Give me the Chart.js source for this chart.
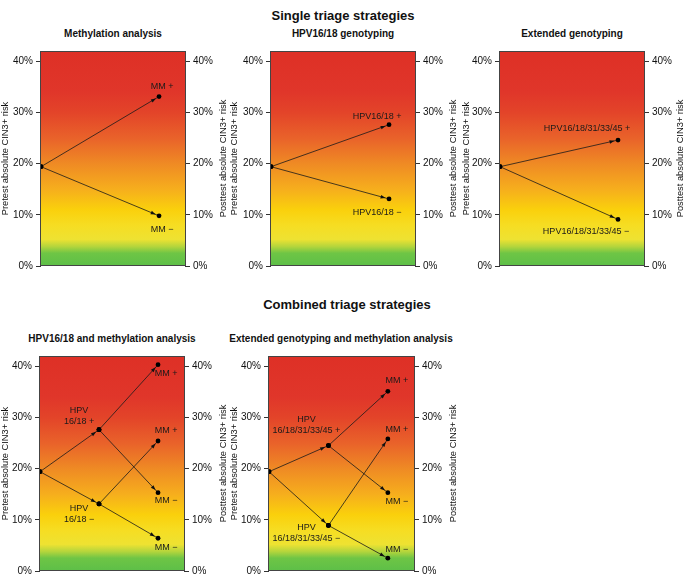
<!DOCTYPE html>
<html>
<head>
<meta charset="utf-8">
<script src="https://cdn.jsdelivr.net/npm/chart.js@4.4.1/dist/chart.umd.min.js"></script>
<style>
  html, body { margin: 0; padding: 0; background: #fff; }
  body { width: 685px; height: 575px; position: relative; overflow: hidden; font-family: "Liberation Sans", Arial, sans-serif; color: #111; }
  .heading { position: absolute; font-weight: bold; font-size: 13px; transform: translate(-50%, -50%); white-space: nowrap; }
  .panel-title { position: absolute; font-weight: bold; font-size: 10px; transform: translate(-50%, -50%); white-space: nowrap; }
  canvas { position: absolute; }
</style>
</head>
<body>
<div class="heading" style="left:343px; top:15px">Single triage strategies</div>
<div class="heading" style="left:347px; top:304px">Combined triage strategies</div>

<canvas id="p0" width="229" height="240" style="left:0px; top:40px"></canvas>
<canvas id="p1" width="230" height="240" style="left:229px; top:40px"></canvas>
<canvas id="p2" width="225" height="240" style="left:461px; top:40px"></canvas>
<canvas id="p3" width="229" height="230" style="left:0px; top:345px"></canvas>
<canvas id="p4" width="230" height="230" style="left:229px; top:345px"></canvas>

<script>
// pretest risk shared by every strategy (%)
const pretestRisk = 19.4;

// single triage strategies
const singleTitles = ["Methylation analysis", "HPV16/18 genotyping", "Extended genotyping"];
const singlePositiveRisk = [33.1, 27.6, 24.6];
const singleNegativeRisk = [9.8, 13.1, 9.1];
const singlePositiveText = ["MM +", "HPV16/18 +", "HPV16/18/31/33/45 +"];
const singleNegativeText = ["MM \u2212", "HPV16/18 \u2212", "HPV16/18/31/33/45 \u2212"];

// combined triage strategies (genotyping first, then methylation)
const combinedTitles = ["HPV16/18 and methylation analysis", "Extended genotyping and methylation analysis"];
const genotypePositiveRisk = [27.6, 24.5];
const genotypeNegativeRisk = [13.1, 8.9];
const posMMPositiveRisk = [40.3, 35.1];
const posMMNegativeRisk = [15.3, 15.3];
const negMMPositiveRisk = [25.4, 25.8];
const negMMNegativeRisk = [6.4, 2.5];
const genotypePositiveText = ["HPV\n16/18 +", "HPV\n16/18/31/33/45 +"];
const genotypeNegativeText = ["HPV\n16/18 \u2212", "HPV\n16/18/31/33/45 \u2212"];
const mmPositiveText = "MM +";
const mmNegativeText = "MM \u2212";

const yTicks = [0, 10, 20, 30, 40];
const leftAxisTitle = "Pretest absolute CIN3+ risk";
const rightAxisTitle = "Posttest absolute CIN3+ risk";

// layout of each panel: axis widths, padding and label offsets (pixels)
const layouts = [
  { left: 41, right: 44, top: 11, bottom: 14, title: [113, 33], offsets: [[3, -10], [3, 14]] },
  { left: 42, right: 44, top: 11, bottom: 14, title: [343, 33], offsets: [[-12, -8], [-12, 14]] },
  { left: 39, right: 42, top: 11, bottom: 14, title: [572, 33], offsets: [[-31, -12], [-32, 12]] },
  { left: 40, right: 45, top: 11, bottom: 3, title: [112, 338],
    offsets: [[-20, -13.5], [-20, 10], [8, 9], [8, 8], [8, -10], [8, 9]] },
  { left: 40, right: 45, top: 11, bottom: 3, title: [341, 338],
    offsets: [[-22, -21], [-22, 7.5], [9, -11], [9, 9], [9, -9], [9, -9]] }
];

const gradientStops = [
  [0, "#5dbf48"], [2.5, "#6ec545"], [3.8, "#b4d53c"], [5.2, "#eee232"], [8, "#f6dd22"],
  [11, "#fad00c"], [15, "#f6ae1d"], [20, "#ef8a24"], [25, "#e9622a"], [30, "#e34429"], [34, "#e0362a"], [42, "#de3026"]
];

const FONT = "'Liberation Sans', Arial, sans-serif";

function seg(x0, y0, x1, y1) {
  return {
    data: [{ x: x0, y: y0 }, { x: x1, y: y1 }],
    showLine: true,
    borderColor: "#1a1a1a",
    borderWidth: 0.8,
    pointRadius: 2.4,
    pointBackgroundColor: "#000",
    pointBorderWidth: 0,
    yAxisID: "y"
  };
}

function overlay(labels) {
  return {
    id: "overlay",
    beforeDatasetsDraw(chart) {
      const { ctx, chartArea: a } = chart;
      const ys = chart.scales.y;
      const g = ctx.createLinearGradient(0, ys.getPixelForValue(0), 0, ys.getPixelForValue(42));
      gradientStops.forEach(([v, c]) => g.addColorStop(v / 42, c));
      ctx.save();
      ctx.fillStyle = g;
      ctx.fillRect(a.left, a.top, a.right - a.left, a.bottom - a.top);
      ctx.restore();
    },
    afterDatasetsDraw(chart) {
      const { ctx, chartArea: a } = chart;
      ctx.save();
      // arrowheads
      chart.data.datasets.forEach((ds, i) => {
        const pts = chart.getDatasetMeta(i).data;
        const p0 = pts[0], p1 = pts[1];
        const dx = p1.x - p0.x, dy = p1.y - p0.y;
        const len = Math.hypot(dx, dy);
        const ux = dx / len, uy = dy / len;
        const tx = p1.x - ux * 3.6, ty = p1.y - uy * 3.6;
        const bx = tx - ux * 5, by = ty - uy * 5;
        ctx.beginPath();
        ctx.moveTo(tx, ty);
        ctx.lineTo(bx - uy * 1.8, by + ux * 1.8);
        ctx.lineTo(bx + uy * 1.8, by - ux * 1.8);
        ctx.closePath();
        ctx.fillStyle = "#111";
        ctx.fill();
      });
      // plot frame
      ctx.strokeStyle = "#444";
      ctx.lineWidth = 1;
      ctx.strokeRect(Math.round(a.left) - 0.5, Math.round(a.top) + 0.5, Math.round(a.right - a.left) + 1, Math.round(a.bottom - a.top) - 1);
      // end-point labels
      ctx.font = "9px " + FONT;
      ctx.fillStyle = "#1a1a1a";
      ctx.textAlign = "center";
      ctx.textBaseline = "middle";
      labels.forEach((lb) => {
        const p = chart.getDatasetMeta(lb.ds).data[1];
        const lines = lb.text.split("\n");
        const lh = 11;
        lines.forEach((t, k) => {
          ctx.fillText(t, p.x + lb.dx, p.y + lb.dy + (k - (lines.length - 1) / 2) * lh);
        });
      });
      // right axis title, reading bottom to top like the left one
      ctx.font = "9.3px " + FONT;
      ctx.fillStyle = "#111";
      ctx.translate(chart.width - 5.6, (a.top + a.bottom) / 2);
      ctx.rotate(-Math.PI / 2);
      ctx.fillText(rightAxisTitle, 0, 0);
      ctx.restore();
    }
  };
}

function yAxis(position, width, title) {
  return {
    type: "linear",
    position: position,
    min: 0,
    max: 42,
    afterBuildTicks: (axis) => { axis.ticks = yTicks.map((v) => ({ value: v })); },
    afterFit: (axis) => { axis.width = width; axis.paddingTop = 0; axis.paddingBottom = 0; },
    grid: { drawOnChartArea: false, drawTicks: true, tickLength: 5, color: "#333", lineWidth: 1 },
    border: { display: false },
    ticks: {
      padding: 3,
      color: "#111",
      font: { family: FONT, size: 10 },
      callback: (v) => v + "%"
    },
    title: {
      display: title !== null,
      text: title || "",
      color: "#111",
      padding: 0,
      font: { family: FONT, size: 9.3 }
    }
  };
}

function makeChart(idx, datasets, labels) {
  const L = layouts[idx];
  const div = document.createElement("div");
  div.className = "panel-title";
  div.style.left = L.title[0] + "px";
  div.style.top = L.title[1] + "px";
  div.textContent = idx < 3 ? singleTitles[idx] : combinedTitles[idx - 3];
  document.body.appendChild(div);

  new Chart(document.getElementById("p" + idx), {
    type: "scatter",
    data: { datasets: datasets },
    options: {
      responsive: false,
      animation: false,
      layout: { padding: { top: L.top, bottom: L.bottom, left: 0, right: 0 } },
      plugins: { legend: { display: false }, tooltip: { enabled: false } },
      scales: {
        x: { type: "linear", display: false, min: 0, max: 2.44 },
        y: yAxis("left", L.left, leftAxisTitle),
        y2: yAxis("right", L.right, null)
      }
    },
    plugins: [overlay(labels)]
  });
}

// single panels: pretest (step 0) straight to the test result (step 2)
singleTitles.forEach((_, i) => {
  const L = layouts[i];
  const ds = [
    seg(0, pretestRisk, 2, singlePositiveRisk[i]),
    seg(0, pretestRisk, 2, singleNegativeRisk[i])
  ];
  const labels = [
    { ds: 0, text: singlePositiveText[i], dx: L.offsets[0][0], dy: L.offsets[0][1] },
    { ds: 1, text: singleNegativeText[i], dx: L.offsets[1][0], dy: L.offsets[1][1] }
  ];
  makeChart(i, ds, labels);
});

// combined panels: pretest -> genotyping (step 1) -> methylation (step 2)
combinedTitles.forEach((_, j) => {
  const idx = j + 3;
  const o = layouts[idx].offsets;
  const ds = [
    seg(0, pretestRisk, 1, genotypePositiveRisk[j]),
    seg(0, pretestRisk, 1, genotypeNegativeRisk[j]),
    seg(1, genotypePositiveRisk[j], 2, posMMPositiveRisk[j]),
    seg(1, genotypePositiveRisk[j], 2, posMMNegativeRisk[j]),
    seg(1, genotypeNegativeRisk[j], 2, negMMPositiveRisk[j]),
    seg(1, genotypeNegativeRisk[j], 2, negMMNegativeRisk[j])
  ];
  const texts = [genotypePositiveText[j], genotypeNegativeText[j], mmPositiveText, mmNegativeText, mmPositiveText, mmNegativeText];
  const labels = texts.map((t, k) => ({ ds: k, text: t, dx: o[k][0], dy: o[k][1] }));
  makeChart(idx, ds, labels);
});
</script>
</body>
</html>
